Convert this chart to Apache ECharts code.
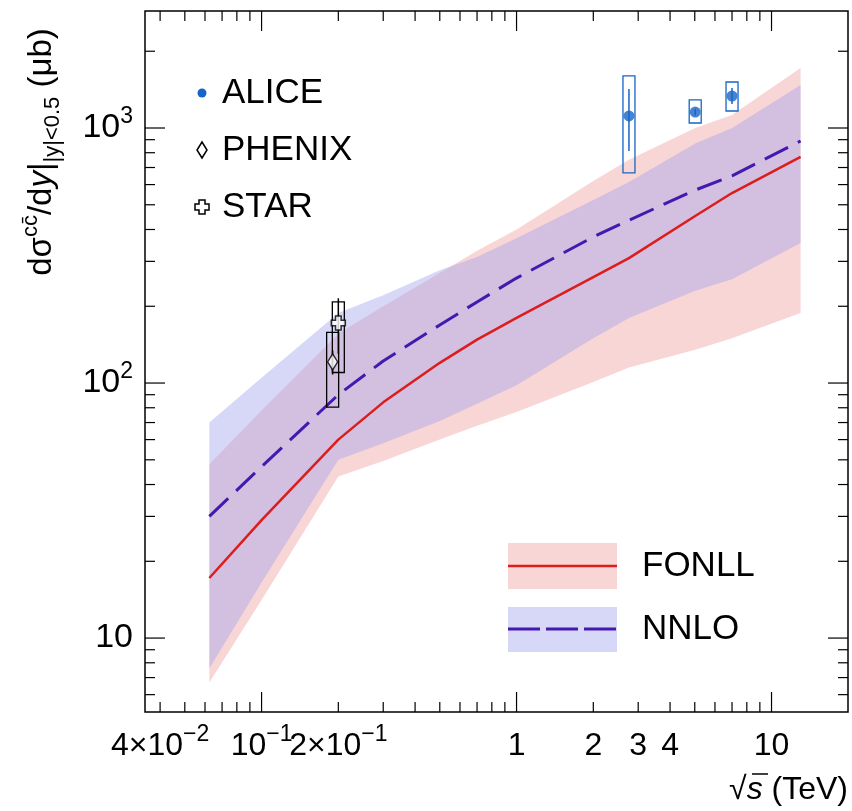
<!DOCTYPE html>
<html>
<head>
<meta charset="utf-8">
<script src="https://cdn.jsdelivr.net/npm/echarts@6/dist/echarts.min.js"></script>
<style>
html,body{margin:0;padding:0;background:#fff;}
#main{width:852px;height:811px;}
</style>
</head>
<body>
<div id="main"></div>
<script>
// sqrt(s) in TeV where the theory curves are sampled
var energies     = [0.0624, 0.1, 0.2, 0.3, 0.5, 0.7, 1, 2, 2.76, 5.02, 7, 13];
var fonllCentral = [17.2, 29, 60, 84, 120, 148, 180, 260, 309, 452, 556, 770];
var fonllLow     = [6.7, 14.1, 43, 49.5, 60, 68, 77, 101, 115, 135, 150, 188];
var fonllHigh    = [48, 78, 156, 200, 270, 330, 400, 620, 750, 1000, 1125, 1720];
var nnloCentral  = [30, 47, 90, 122, 169, 208, 258, 374, 435, 571, 649, 889];
var nnloLow      = [7.6, 16.5, 50, 58, 71, 83, 98, 150, 180, 230, 255, 354];
var nnloHigh     = [70, 105, 188, 221, 277, 312, 370, 522, 614, 870, 1000, 1475];

// measurements: [sqrt(s), value, statLow, statHigh, sysLow, sysHigh]
var alice  = [[2.76, 1115, 813, 1422, 667, 1600], [5.02, 1155, 1120, 1190, 1046, 1288], [7, 1335, 1242, 1435, 1166, 1515]];
var phenix = [[0.19, 121, 108, 134, 80.5, 158]];
var star   = [[0.2, 172, 130, 215, 110, 208]];

// axes
var X_MIN = 0.0349, X_MAX = 19.95;
var Y_MIN = 5.13, Y_MAX = 2876;
var xMajor = [0.1, 1, 10];
var xMinor = [0.04, 0.05, 0.06, 0.07, 0.08, 0.09, 0.2, 0.3, 0.4, 0.5, 0.6, 0.7, 0.8, 0.9, 2, 3, 4, 5, 6, 7, 8, 9];
var yMajor = [10, 100, 1000];
var yMinor = [6, 7, 8, 9, 20, 30, 40, 50, 60, 70, 80, 90, 200, 300, 400, 500, 600, 700, 800, 900, 2000];
var xLabelVals = [0.04, 0.1, 0.2, 1, 2, 3, 4, 10];
var xLabelText = ['4×10{e|−2}', '10{e|−1}', '2×10{e|−1}', '1', '2', '3', '4', '10'];
var yLabelVals = [10, 100, 1000];
var yLabelText = ['10', '10{e|2}', '10{e|3}'];

var FONT = '"Liberation Sans", Arial, Helvetica, sans-serif';
var FONLL_FILL = 'rgba(235,138,138,0.35)';
var NNLO_FILL = 'rgba(160,160,236,0.42)';
var RED = '#dd1c1c';
var PURPLE = '#4419b0';
var BLUE = '#1565c8';

function pairs(xs, ys) {
    var out = [];
    for (var i = 0; i < xs.length; i++) out.push([xs[i], ys[i]]);
    return out;
}

function bandItem(low, high, fill) {
    return function (params, api) {
        var pts = [];
        for (var i = 0; i < energies.length; i++) pts.push(api.coord([energies[i], high[i]]));
        for (var j = energies.length - 1; j >= 0; j--) pts.push(api.coord([energies[j], low[j]]));
        return {type: 'polygon', shape: {points: pts}, style: {fill: fill}};
    };
}

function pointItem(color) {
    return function (params, api) {
        var x = api.value(0);
        var s1 = api.coord([x, api.value(2)]);
        var s2 = api.coord([x, api.value(3)]);
        var b1 = api.coord([x, api.value(4)]);
        var b2 = api.coord([x, api.value(5)]);
        var hw = 6;
        return {type: 'group', children: [
            {type: 'rect', shape: {x: b2[0] - hw, y: b2[1], width: hw * 2, height: b1[1] - b2[1]},
             style: {fill: 'none', stroke: color, lineWidth: 1.3}},
            {type: 'line', shape: {x1: s1[0], y1: s1[1], x2: s2[0], y2: s2[1]},
             style: {stroke: color, lineWidth: 1.5}}
        ]};
    };
}

var tickStyle = {stroke: '#000', lineWidth: 1.2};

function xTickItem(params, api) {
    var v = api.value(0), len = api.value(1) ? 20 : 10;
    var b = api.coord([v, Y_MIN]), t = api.coord([v, Y_MAX]);
    return {type: 'group', children: [
        {type: 'line', shape: {x1: b[0], y1: b[1], x2: b[0], y2: b[1] - len}, style: tickStyle},
        {type: 'line', shape: {x1: t[0], y1: t[1], x2: t[0], y2: t[1] + len}, style: tickStyle}
    ]};
}

function yTickItem(params, api) {
    var v = api.value(0), len = api.value(1) ? 20 : 10;
    var l = api.coord([X_MIN, v]), r = api.coord([X_MAX, v]);
    return {type: 'group', children: [
        {type: 'line', shape: {x1: l[0], y1: l[1], x2: l[0] + len, y2: l[1]}, style: tickStyle},
        {type: 'line', shape: {x1: r[0], y1: r[1], x2: r[0] - len, y2: r[1]}, style: tickStyle}
    ]};
}

var labelRich = {
    e: {fontSize: 23, fontFamily: FONT, verticalAlign: 'middle', padding: [0, 0, 22, 0], fill: '#000'}
};

function xLabelItem(params, api) {
    var p = api.coord([api.value(0), Y_MIN]);
    return {type: 'text', x: p[0], y: p[1] + 34, style: {
        text: xLabelText[params.dataIndex], font: '32px ' + FONT, fill: '#000',
        align: 'center', verticalAlign: 'middle', rich: labelRich}};
}

function yLabelItem(params, api) {
    var p = api.coord([X_MIN, api.value(1)]);
    return {type: 'text', x: p[0] - 12, y: p[1], style: {
        text: yLabelText[params.dataIndex], font: '34px ' + FONT, fill: '#000',
        align: 'right', verticalAlign: 'middle', rich: labelRich}};
}

var starSymbol = 'path://M3,0 H7 V3 H10 V7 H7 V10 H3 V7 H0 V3 H3 Z';

var option = {
    animation: false,
    backgroundColor: '#fff',
    grid: {left: 145, right: 4, top: 11, bottom: 99, show: true, borderColor: '#000', borderWidth: 1.5},
    xAxis: {type: 'log', logBase: 10, min: X_MIN, max: X_MAX,
        axisLine: {show: false}, axisTick: {show: false}, axisLabel: {show: false}, splitLine: {show: false}},
    yAxis: {type: 'log', logBase: 10, min: Y_MIN, max: Y_MAX,
        axisLine: {show: false}, axisTick: {show: false}, axisLabel: {show: false}, splitLine: {show: false}},
    series: [
        {type: 'custom', name: 'FONLL band', renderItem: bandItem(fonllLow, fonllHigh, FONLL_FILL), data: [[1, 100]], z: 1},
        {type: 'custom', name: 'NNLO band', renderItem: bandItem(nnloLow, nnloHigh, NNLO_FILL), data: [[1, 100]], z: 2},
        {type: 'line', name: 'FONLL', data: pairs(energies, fonllCentral), showSymbol: false, smooth: false,
            lineStyle: {color: RED, width: 2.5}, z: 3},
        {type: 'line', name: 'NNLO', data: pairs(energies, nnloCentral), showSymbol: false, smooth: false,
            lineStyle: {color: PURPLE, width: 3, type: [26, 11]}, z: 3},
        {type: 'custom', name: 'PHENIX err', renderItem: pointItem('#000'), data: phenix, z: 4},
        {type: 'custom', name: 'STAR err', renderItem: pointItem('#000'), data: star, z: 4},
        {type: 'custom', name: 'ALICE err', renderItem: pointItem(BLUE), data: alice, z: 4},
        {type: 'scatter', name: 'PHENIX', data: phenix, symbol: 'diamond', symbolSize: [10, 16],
            itemStyle: {color: '#fff', borderColor: '#000', borderWidth: 1.5}, z: 5},
        {type: 'scatter', name: 'STAR', data: star, symbol: starSymbol, symbolSize: 14,
            itemStyle: {color: '#fff', borderColor: '#000', borderWidth: 1.5}, z: 5},
        {type: 'scatter', name: 'ALICE', data: alice, symbol: 'circle', symbolSize: 11,
            itemStyle: {color: BLUE}, z: 5},
        {type: 'custom', name: 'x ticks', renderItem: xTickItem, z: 10,
            data: xMajor.map(function (v) { return [v, 1]; }).concat(xMinor.map(function (v) { return [v, 0]; }))},
        {type: 'custom', name: 'y ticks', renderItem: yTickItem, z: 10, encode: {x: 2, y: 0},
            data: yMajor.map(function (v) { return [v, 1, 1]; }).concat(yMinor.map(function (v) { return [v, 0, 1]; }))},
        {type: 'custom', name: 'x labels', renderItem: xLabelItem, z: 10,
            data: xLabelVals.map(function (v) { return [v, 100]; })},
        {type: 'custom', name: 'y labels', renderItem: yLabelItem, z: 10,
            data: yLabelVals.map(function (v) { return [1, v]; })}
    ],
    graphic: [
        // upper-left legend
        {type: 'circle', shape: {cx: 202, cy: 93, r: 4.5}, style: {fill: BLUE}},
        {type: 'text', x: 222, y: 93, style: {text: 'ALICE', font: '35px ' + FONT, fill: '#000', verticalAlign: 'middle'}},
        {type: 'polygon', shape: {points: [[202, 142], [207, 150], [202, 158], [197, 150]]},
            style: {fill: '#fff', stroke: '#000', lineWidth: 1.5}},
        {type: 'text', x: 222, y: 150, style: {text: 'PHENIX', font: '35px ' + FONT, fill: '#000', verticalAlign: 'middle'}},
        {type: 'polygon', shape: {points: [[199, 200], [205, 200], [205, 204], [209, 204], [209, 210], [205, 210], [205, 214], [199, 214], [199, 210], [195, 210], [195, 204], [199, 204]]},
            style: {fill: '#fff', stroke: '#000', lineWidth: 1.5}},
        {type: 'text', x: 222, y: 207, style: {text: 'STAR', font: '35px ' + FONT, fill: '#000', verticalAlign: 'middle'}},
        // lower-right legend
        {type: 'rect', shape: {x: 508, y: 543, width: 109, height: 46}, style: {fill: FONLL_FILL}},
        {type: 'line', shape: {x1: 508, y1: 566, x2: 617, y2: 566}, style: {stroke: RED, lineWidth: 2.5}},
        {type: 'text', x: 642, y: 566, style: {text: 'FONLL', font: '35px ' + FONT, fill: '#000', verticalAlign: 'middle'}},
        {type: 'rect', shape: {x: 508, y: 607, width: 109, height: 45}, style: {fill: NNLO_FILL}},
        {type: 'line', shape: {x1: 508, y1: 629, x2: 617, y2: 629}, style: {stroke: PURPLE, lineWidth: 3, lineDash: [32, 6]}},
        {type: 'text', x: 642, y: 629, style: {text: 'NNLO', font: '35px ' + FONT, fill: '#000', verticalAlign: 'middle'}},
        // axis titles
        {type: 'text', x: 42, y: 152, rotation: Math.PI / 2, style: {
            text: '{n|dσ}{sup|cc̄}{n|/d}{i|y}{n||}{sub||y|<0.5}{n| (μb)}',
            align: 'center', verticalAlign: 'middle',
            rich: {
                n: {fontSize: 33, fontFamily: FONT, fill: '#000', verticalAlign: 'middle'},
                i: {fontSize: 33, fontFamily: FONT, fontStyle: 'italic', fill: '#000', verticalAlign: 'middle'},
                sup: {fontSize: 22, fontFamily: FONT, fill: '#000', verticalAlign: 'middle', padding: [0, 0, 22, 0]},
                sub: {fontSize: 22, fontFamily: FONT, fill: '#000', verticalAlign: 'middle', padding: [22, 0, 0, 0]}
            }}},
        {type: 'text', x: 848, y: 790, style: {
            text: '{n|√}{i|s}{n| (TeV)}', align: 'right', verticalAlign: 'middle',
            rich: {
                n: {fontSize: 32, fontFamily: FONT, fill: '#000'},
                i: {fontSize: 32, fontFamily: FONT, fontStyle: 'italic', fill: '#000'}
            }}},
        {type: 'line', shape: {x1: 752, y1: 774, x2: 768, y2: 774}, style: {stroke: '#000', lineWidth: 1.5}}
    ]
};

var chart = echarts.init(document.getElementById('main'));
chart.setOption(option);
window.addEventListener('resize', function () {
    chart.resize();
});
</script>
</body>
</html>
